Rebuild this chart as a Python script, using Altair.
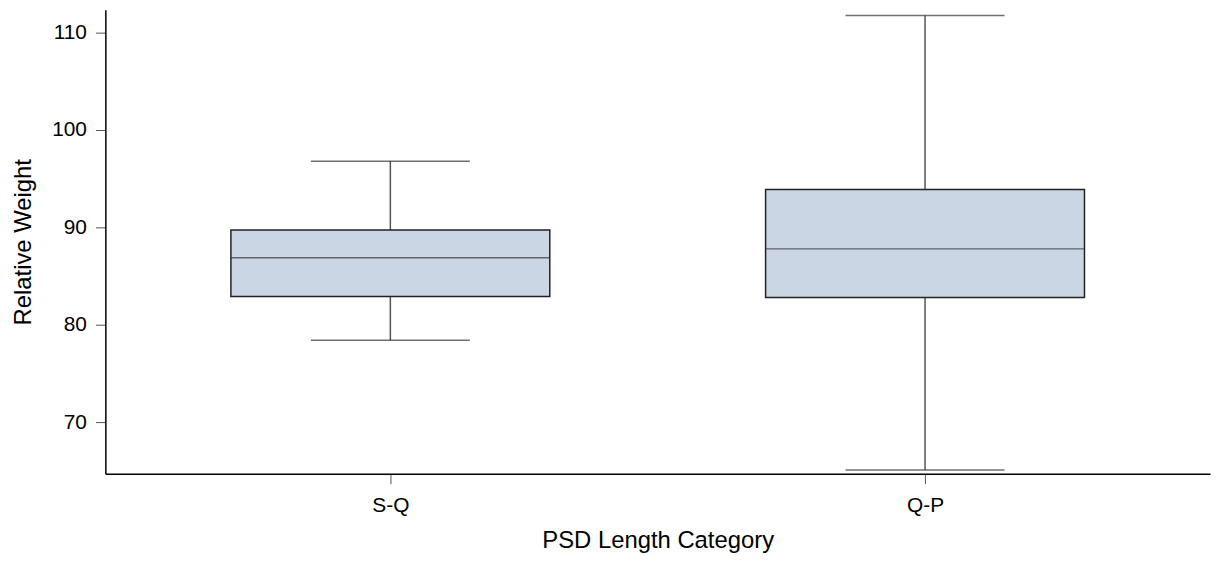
import altair as alt
import pandas as pd

categories = ["S-Q", "Q-P"]
lower_whisker = [78.40, 65.07]
q1 = [82.89, 82.79]
median = [86.87, 87.79]
q3 = [89.72, 93.88]
upper_whisker = [96.80, 111.77]

df = pd.DataFrame({
    "cat": categories,
    "lo": lower_whisker,
    "q1": q1,
    "med": median,
    "q3": q3,
    "hi": upper_whisker,
})

FONT = "Liberation Sans"

x = alt.X(
    "cat:N",
    title="PSD Length Category",
    scale=alt.Scale(type="point", padding=0.533, domain=categories),
    axis=alt.Axis(labelAngle=0, tickSize=10, labelPadding=11, titlePadding=13,
                  domainColor="black", tickColor="#555", grid=False),
)
yscale = alt.Scale(domain=[64.69, 112.35], nice=False, zero=False)
yaxis = alt.Axis(values=[70, 80, 90, 100, 110], tickSize=10, labelPadding=9,
                 titlePadding=16, domainColor="black", tickColor="#555", grid=False)

base = alt.Chart(df)

whisker = base.mark_rule(color="#555", strokeWidth=1.5).encode(
    x=x,
    y=alt.Y("lo:Q", title="Relative Weight", scale=yscale, axis=yaxis),
    y2="hi:Q",
)
cap_lo = base.mark_tick(orient="horizontal", size=160, thickness=1.5, color="#333").encode(
    x=x, y=alt.Y("lo:Q", scale=yscale)
)
cap_hi = base.mark_tick(orient="horizontal", size=160, thickness=1.5, color="#333").encode(
    x=x, y=alt.Y("hi:Q", scale=yscale)
)
box = base.mark_bar(size=321, fill="#cbd6e5", stroke="#222", strokeWidth=1.5).encode(
    x=x, y=alt.Y("q1:Q", scale=yscale), y2="q3:Q"
)
med = base.mark_tick(orient="horizontal", size=321, thickness=1.5, color="#333").encode(
    x=x, y=alt.Y("med:Q", scale=yscale)
)

chart = alt.layer(whisker, cap_lo, cap_hi, box, med).properties(
    width=1112,
    height=467,
    autosize=alt.AutoSizeParams(type="none"),
    padding={"left": 98, "top": 0, "right": 4, "bottom": 82},
).configure_view(stroke=None).configure_axis(
    labelFont=FONT, titleFont=FONT, labelFontSize=21, titleFontSize=24,
    labelColor="black", titleColor="black", titleFontWeight="normal",
    domainWidth=1.5,
)

chart.save("out.html", embed_options={"renderer": "svg", "actions": False})
